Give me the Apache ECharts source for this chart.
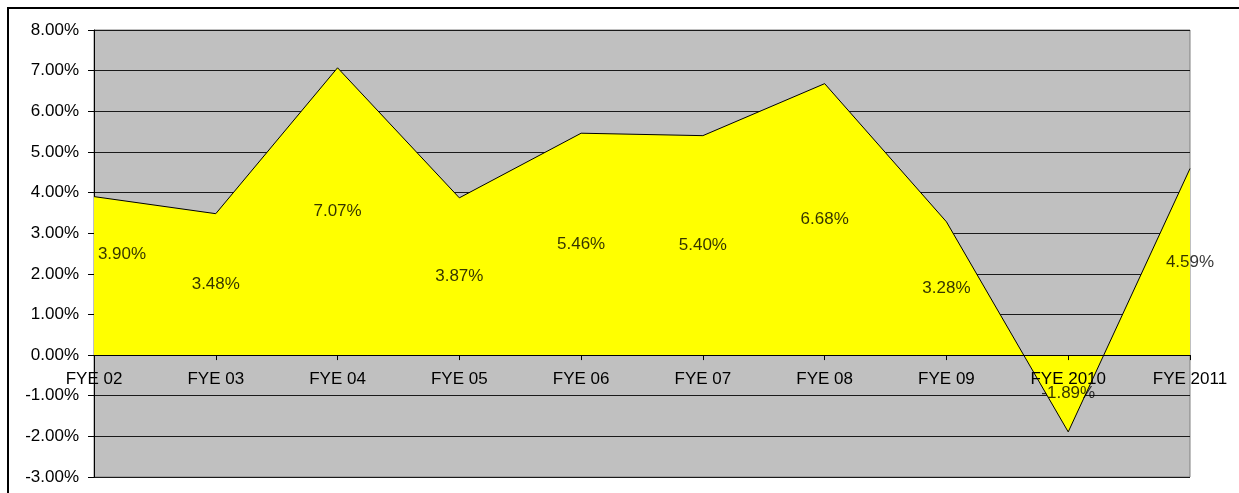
<!DOCTYPE html>
<html>
<head>
<meta charset="utf-8">
<script src="https://cdn.jsdelivr.net/npm/echarts@6/dist/echarts.min.js"></script>
<style>
  html, body { margin: 0; padding: 0; background: #fff; }
  #chart { width: 1239px; height: 493px; }
</style>
</head>
<body>
<div id="chart"></div>
<script>
// Fiscal years and yearly growth rates (percent)
const categories = ['FYE 02', 'FYE 03', 'FYE 04', 'FYE 05', 'FYE 06', 'FYE 07', 'FYE 08', 'FYE 09', 'FYE 2010', 'FYE 2011'];
const growth = [3.90, 3.48, 7.07, 3.87, 5.46, 5.40, 6.68, 3.28, -1.89, 4.59];

// Value axis range (percent)
const yMin = -3;
const yMax = 8;
const yStep = 1;

const FONT = 'Liberation Sans, Arial, sans-serif';
const fmtPct = v => v.toFixed(2) + '%';

// Plot box
const GRID = { left: 94, right: 49, top: 30, bottom: 16 };
const plotH = 493 - GRID.top - GRID.bottom;
// Category axis sits on the zero line: lift it from the bottom edge
const zeroLift = plotH * (0 - yMin) / (yMax - yMin);

// Value labels sit halfway between zero and the top of the area
const labelPoints = growth.map((v, i) => {
  const item = { value: [i, v / 2] };
  if (i === 0) item.label = { offset: [28, -22] };
  return item;
});

const chart = echarts.init(document.getElementById('chart'));
chart.setOption({
  animation: false,
  backgroundColor: '#ffffff',
  graphic: [{
    type: 'rect',
    shape: { x: 8, y: 8, width: 1400, height: 700 },
    style: { fill: 'none', stroke: '#000', lineWidth: 2 },
    silent: true
  }],
  grid: {
    left: GRID.left, right: GRID.right, top: GRID.top, bottom: GRID.bottom,
    containLabel: false,
    outerBoundsMode: 'none',
    show: true,
    backgroundColor: '#C0C0C0',
    borderColor: '#808080',
    borderWidth: 1
  },
  xAxis: {
    type: 'category',
    data: categories,
    boundaryGap: false,
    offset: -zeroLift,
    z: 5,
    axisLine: { onZero: false, lineStyle: { color: '#000', width: 1 } },
    axisTick: { show: true, length: 5, alignWithLabel: true, lineStyle: { color: '#000' } },
    axisLabel: { color: '#000', fontFamily: FONT, fontSize: 17, margin: 16, interval: 0 },
    splitLine: { show: false }
  },
  yAxis: {
    type: 'value',
    min: yMin, max: yMax, interval: yStep,
    axisLine: { show: true, lineStyle: { color: '#000', width: 1 } },
    axisTick: { show: true, length: 6, lineStyle: { color: '#000' } },
    axisLabel: { color: '#000', fontFamily: FONT, fontSize: 17, margin: 15, formatter: fmtPct },
    splitLine: { show: true, lineStyle: { color: '#1a1a1a', width: 1 } }
  },
  series: [
    {
      type: 'line',
      data: growth,
      symbol: 'none',
      lineStyle: { color: '#000', width: 1 },
      areaStyle: { color: '#FFFF00', opacity: 1 },
      z: 2
    },
    {
      type: 'scatter',
      data: labelPoints,
      symbolSize: 0,
      silent: true,
      z: 6,
      label: {
        show: true,
        position: 'inside',
        color: '#000',
        fontFamily: FONT,
        fontSize: 17,
        formatter: p => fmtPct(growth[p.dataIndex])
      }
    }
  ]
});
</script>
</body>
</html>
